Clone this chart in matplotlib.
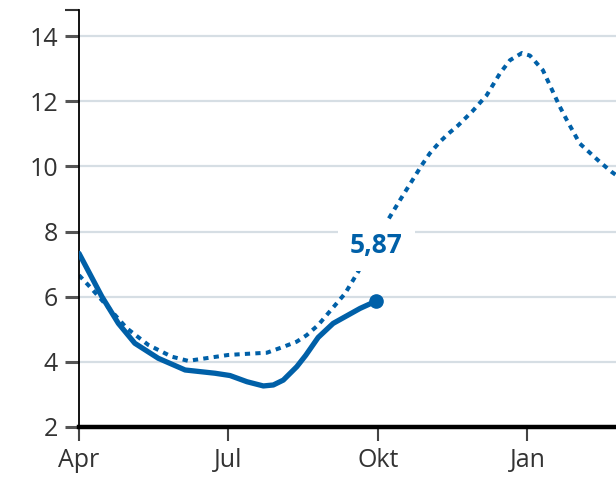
import numpy as np
import matplotlib.pyplot as plt

# Monate ab April (0 = Apr, 3 = Jul, 6 = Okt, 9 = Jan)
ist_monat = [0, 0.46, 0.79, 1.12, 1.59, 2.13, 2.73, 3.03, 3.37, 3.70, 3.90, 4.10, 4.37, 4.55, 4.80,
             5.10, 5.64, 5.97]
ist_wert = [7.33, 6.0, 5.18, 4.57, 4.11, 3.75, 3.65, 3.58, 3.39, 3.26, 3.29, 3.44, 3.85, 4.2, 4.75,
            5.18, 5.64, 5.87]

vorjahr_monat = [0, 0.22, 0.42, 0.96, 1.39, 1.86, 2.19, 2.59, 2.99, 3.30, 3.77, 4.10, 4.37, 4.57, 4.80,
                 5.14, 5.34, 5.60, 6.0, 6.44, 6.88, 7.04, 7.24, 7.41, 7.61, 7.90, 8.18, 8.45, 8.65,
                 8.89, 9.05, 9.31, 9.65, 9.79, 10.05, 10.45, 10.69, 10.9]
vorjahr_wert = [6.66, 6.3, 5.96, 5.03, 4.52, 4.16, 4.03, 4.12, 4.21, 4.24, 4.28, 4.46, 4.62, 4.82, 5.13,
                5.74, 6.1, 6.76, 7.85, 8.96, 10.04, 10.4, 10.75, 11.0, 11.26, 11.7, 12.18, 12.86, 13.26,
                13.48, 13.4, 12.95, 11.83, 11.42, 10.7, 10.14, 9.83, 9.6]

tick_pos = [0, 3, 6, 9]
tick_labels = ['Apr', 'Jul', 'Okt', 'Jan']
y_ticks = [2, 4, 6, 8, 10, 12, 14]
letzter_wert = '5,87'

blau = '#0060a8'
plt.rcParams['font.family'] = ['Open Sans', 'DejaVu Sans']

fig = plt.figure(figsize=(6.16, 4.79), dpi=100)
ax = fig.add_axes([79/616, 52/479, 1 - 79/616, (427 - 10)/479])

ax.set_xlim(0, (616 - 79) / 49.83)
ax.set_ylim(2, 14.8)

# Gitterlinien
for y in y_ticks[1:]:
    ax.axhline(y, color='#d6dee4', lw=1.6, zorder=0)

ax.plot(vorjahr_monat, vorjahr_wert, color=blau, lw=2.9, linestyle=(0, (1.3, 1.3)),
        dash_capstyle='butt', dash_joinstyle='round', zorder=2)
ax.plot(ist_monat, ist_wert, color=blau, lw=3.8, solid_capstyle='round', solid_joinstyle='round',
        zorder=3)
ax.plot(ist_monat[-1], ist_wert[-1], 'o', color=blau, markersize=9.5, zorder=4)

ax.text(ist_monat[-1], 7.58, letzter_wert, color=blau, fontsize=19, fontweight='bold',
        ha='center', va='center', zorder=5,
        bbox=dict(boxstyle='square,pad=0.45', fc='white', ec='none'))

for s in ['top', 'right']:
    ax.spines[s].set_visible(False)
ax.spines['left'].set_linewidth(1.3)
ax.spines['left'].set_color('black')
ax.spines['bottom'].set_linewidth(3.2)
ax.spines['bottom'].set_color('black')

ax.set_xticks(tick_pos)
ax.set_xticklabels(tick_labels)
ax.set_yticks(y_ticks)
ax.set_yticks([14.8], minor=True)
ax.tick_params(axis='x', length=10, width=1.5, color='#444', pad=5, labelsize=18, labelcolor='#333')
ax.tick_params(axis='y', which='major', length=10, width=2.2, color='#555', pad=5, labelsize=18,
               labelcolor='#333')
ax.tick_params(axis='y', which='minor', length=10, width=1.5, color='#333')

plt.savefig('out.png', dpi=100)
